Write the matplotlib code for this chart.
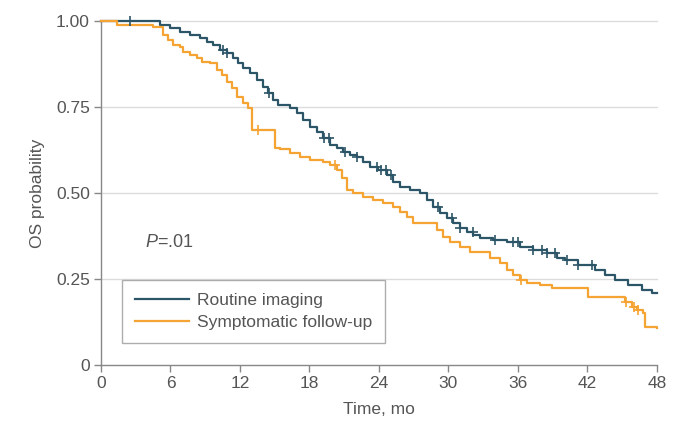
import numpy as np
import matplotlib
matplotlib.use("Agg")
import matplotlib.pyplot as plt

# Kaplan-Meier step data (time in months, OS probability)
routine_t = [0, 5.09, 5.96, 6.82, 7.68, 8.55, 9.15, 9.67, 10.27, 10.88, 11.40, 11.83, 12.26,
             12.86, 13.47, 13.99, 14.42, 14.85, 15.28, 16.32, 16.92, 17.44, 18.04, 18.65,
             19.17, 19.77, 20.37, 20.89, 21.50, 22.10, 22.62, 23.22, 23.91, 24.69, 25.21,
             25.81, 26.68, 27.54, 28.14, 28.66, 29.27, 29.87, 30.39, 30.99, 31.60, 32.11,
             32.72, 33.84, 35.05, 36.17, 37.30, 38.50, 39.37, 40.06, 41.18, 42.65, 43.51,
             44.38, 45.50, 46.71, 47.57, 48.0]
routine_s = [1.0, 0.988, 0.980, 0.968, 0.959, 0.951, 0.939, 0.930, 0.916, 0.907, 0.892,
             0.878, 0.863, 0.849, 0.828, 0.808, 0.791, 0.770, 0.756, 0.747, 0.733, 0.712,
             0.692, 0.677, 0.660, 0.640, 0.631, 0.619, 0.610, 0.605, 0.590, 0.576, 0.567,
             0.552, 0.532, 0.517, 0.509, 0.500, 0.480, 0.459, 0.442, 0.427, 0.413, 0.398,
             0.387, 0.378, 0.369, 0.363, 0.358, 0.343, 0.334, 0.326, 0.311, 0.305, 0.291,
             0.276, 0.262, 0.247, 0.233, 0.218, 0.209, 0.209]
routine_cens = [2.5, 10.5, 10.9, 14.5, 19.3, 19.7, 21.1, 22.1, 23.8, 24.2, 24.6, 25.0,
                29.1, 30.3, 31.0, 32.1, 34.0, 35.6, 36.0, 37.3, 38.1, 38.5, 39.2, 40.2,
                41.2, 42.4]

sympt_t = [0, 1.38, 4.49, 5.35, 5.78, 6.22, 6.82, 7.08, 7.68, 8.29, 8.72, 9.41, 10.01,
           10.45, 10.88, 11.31, 11.74, 12.26, 12.69, 13.04, 15.02, 15.45, 16.32, 17.18,
           18.04, 19.17, 19.77, 20.37, 20.81, 21.24, 21.76, 22.62, 23.48, 24.35, 25.21,
           25.81, 26.42, 26.94, 29.01, 29.53, 30.13, 30.99, 31.86, 33.58, 34.45, 35.05,
           35.57, 36.17, 36.78, 37.90, 38.94, 42.04, 45.24, 45.84, 46.27, 46.79, 46.96,
           48.0]
sympt_s = [1.0, 0.988, 0.983, 0.959, 0.945, 0.930, 0.924, 0.910, 0.901, 0.892, 0.881,
           0.878, 0.858, 0.843, 0.823, 0.805, 0.779, 0.762, 0.747, 0.683, 0.631, 0.628,
           0.616, 0.605, 0.596, 0.590, 0.581, 0.567, 0.544, 0.509, 0.500, 0.488, 0.480,
           0.471, 0.459, 0.445, 0.430, 0.413, 0.392, 0.372, 0.358, 0.343, 0.328, 0.311,
           0.297, 0.276, 0.262, 0.247, 0.238, 0.233, 0.224, 0.198, 0.183, 0.169, 0.160,
           0.151, 0.110, 0.108]
sympt_cens = [13.6, 20.2, 36.3, 45.3, 46.0, 46.4]

x_ticks = [0, 6, 12, 18, 24, 30, 36, 42, 48]
y_ticks = [0, 0.25, 0.50, 0.75, 1.00]
y_tick_labels = ["0", "0.25", "0.50", "0.75", "1.00"]
labels = ["Routine imaging", "Symptomatic follow-up"]

BLUE = "#2c5567"
ORANGE = "#f5a332"
GRAY = "#555555"
FS = 12.5

plt.rcParams['font.family'] = ['Liberation Sans', 'DejaVu Sans']
plt.rcParams['mathtext.fontset'] = 'custom'
plt.rcParams['mathtext.it'] = 'Liberation Sans:italic'
plt.rcParams['mathtext.rm'] = 'Liberation Sans'

fig = plt.figure(figsize=(6.8, 4.25), dpi=100)
ax = fig.add_axes([0.1485, 0.141, 0.8175, 0.8096])

for yv in y_ticks[1:]:
    ax.axhline(yv, color="#dcdcdc", lw=1.0, zorder=0, clip_on=False)


def step_val(ts, ss, t):
    idx = np.searchsorted(ts, t, side='right') - 1
    return ss[max(idx, 0)]


for ts, ss, cens, col, lab in [(routine_t, routine_s, routine_cens, BLUE, labels[0]),
                               (sympt_t, sympt_s, sympt_cens, ORANGE, labels[1])]:
    ax.step(ts, ss, where='post', color=col, lw=1.6, label=lab, clip_on=False, zorder=3)
    cy = [step_val(ts, ss, c) for c in cens]
    ax.plot(cens, cy, linestyle='none', marker='+', markersize=7, mew=1.2, color=col,
            clip_on=False, zorder=4)

ax.set_xlim(0, 48)
ax.set_ylim(0, 1.0)
ax.set_xticks(x_ticks)
ax.set_yticks(y_ticks)
ax.set_yticklabels(y_tick_labels)

for s in ['top', 'right']:
    ax.spines[s].set_visible(False)
for s in ['left', 'bottom']:
    ax.spines[s].set_color("#888888")
    ax.spines[s].set_linewidth(1.0)
ax.tick_params(axis='both', direction='out', length=5, width=1.0, color="#888888",
               labelcolor=GRAY, labelsize=FS, pad=3)

ax.set_xlabel("Time, mo", fontsize=FS, color=GRAY, labelpad=8)
ax.set_ylabel("OS probability", fontsize=FS, color=GRAY, labelpad=8)

ax.text(0.079, 0.355, r"$P$=.01", transform=ax.transAxes, fontsize=FS + 0.5, color=GRAY,
        va='center', ha='left')

leg = ax.legend(loc='upper left', bbox_to_anchor=(0.038, 0.247), frameon=True,
                fancybox=False, edgecolor="#999999", fontsize=FS, handlelength=3.1,
                borderpad=0.75, labelspacing=0.4, handletextpad=0.45, borderaxespad=0)
leg.get_frame().set_linewidth(1.0)
for txt in leg.get_texts():
    txt.set_color(GRAY)
for ln in leg.get_lines():
    ln.set_linewidth(1.6)

fig.savefig("out.png", dpi=100)
